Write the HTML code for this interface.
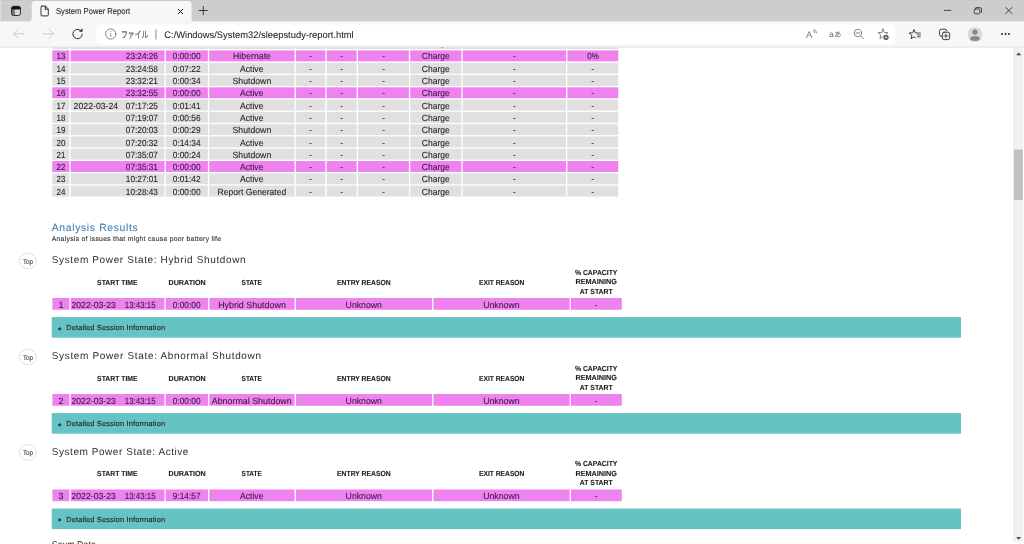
<!DOCTYPE html>
<html lang="ja"><head><meta charset="utf-8"><title>System Power Report</title>
<style>
html,body{margin:0;padding:0;background:#fff;overflow:hidden}
body{width:1024px;height:544px;overflow:hidden;position:relative}
#s{position:absolute;left:0;top:0;width:1920px;height:1020px;transform:scale(.5333333);transform-origin:0 0;
font-family:"Liberation Sans","Noto Sans CJK JP",sans-serif;color:#262626;overflow:hidden;background:#fff;text-rendering:geometricPrecision}
#page,#chrome{position:absolute;left:0;top:0;width:1920px;height:0}
.t{position:absolute;white-space:pre;margin:0;transform-origin:0 50%;-webkit-text-stroke:.2px}
.ic{position:absolute;overflow:visible}
</style></head>
<body><div id="s">
<div id="page">
<svg class="ic" viewBox="0 0 1024 544" style="left:0;top:0;width:1920px;height:1020px">
<rect x="52.25" y="38.13" width="17.08" height="10.96" fill="#e0e0e0"/>
<rect x="70.67" y="38.13" width="93.87" height="10.96" fill="#e0e0e0"/>
<rect x="165.86" y="38.13" width="42.02" height="10.96" fill="#e0e0e0"/>
<rect x="209.22" y="38.13" width="85.32" height="10.96" fill="#e0e0e0"/>
<rect x="295.87" y="38.13" width="29.47" height="10.96" fill="#e0e0e0"/>
<rect x="326.67" y="38.13" width="29.97" height="10.96" fill="#e0e0e0"/>
<rect x="357.97" y="38.13" width="50.92" height="10.96" fill="#e0e0e0"/>
<rect x="410.22" y="38.13" width="51.17" height="10.96" fill="#e0e0e0"/>
<rect x="462.72" y="38.13" width="103.32" height="10.96" fill="#e0e0e0"/>
<rect x="567.37" y="38.13" width="50.88" height="10.96" fill="#e0e0e0"/>
<rect x="52.25" y="50.42" width="17.08" height="10.96" fill="#ee82ee"/>
<rect x="70.67" y="50.42" width="93.87" height="10.96" fill="#ee82ee"/>
<rect x="165.86" y="50.42" width="42.02" height="10.96" fill="#ee82ee"/>
<rect x="209.22" y="50.42" width="85.32" height="10.96" fill="#ee82ee"/>
<rect x="295.87" y="50.42" width="29.47" height="10.96" fill="#ee82ee"/>
<rect x="326.67" y="50.42" width="29.97" height="10.96" fill="#ee82ee"/>
<rect x="357.97" y="50.42" width="50.92" height="10.96" fill="#ee82ee"/>
<rect x="410.22" y="50.42" width="51.17" height="10.96" fill="#ee82ee"/>
<rect x="462.72" y="50.42" width="103.32" height="10.96" fill="#ee82ee"/>
<rect x="567.37" y="50.42" width="50.88" height="10.96" fill="#ee82ee"/>
<rect x="52.25" y="62.71" width="17.08" height="10.96" fill="#e0e0e0"/>
<rect x="70.67" y="62.71" width="93.87" height="10.96" fill="#e0e0e0"/>
<rect x="165.86" y="62.71" width="42.02" height="10.96" fill="#e0e0e0"/>
<rect x="209.22" y="62.71" width="85.32" height="10.96" fill="#e0e0e0"/>
<rect x="295.87" y="62.71" width="29.47" height="10.96" fill="#e0e0e0"/>
<rect x="326.67" y="62.71" width="29.97" height="10.96" fill="#e0e0e0"/>
<rect x="357.97" y="62.71" width="50.92" height="10.96" fill="#e0e0e0"/>
<rect x="410.22" y="62.71" width="51.17" height="10.96" fill="#e0e0e0"/>
<rect x="462.72" y="62.71" width="103.32" height="10.96" fill="#e0e0e0"/>
<rect x="567.37" y="62.71" width="50.88" height="10.96" fill="#e0e0e0"/>
<rect x="52.25" y="75" width="17.08" height="10.96" fill="#e0e0e0"/>
<rect x="70.67" y="75" width="93.87" height="10.96" fill="#e0e0e0"/>
<rect x="165.86" y="75" width="42.02" height="10.96" fill="#e0e0e0"/>
<rect x="209.22" y="75" width="85.32" height="10.96" fill="#e0e0e0"/>
<rect x="295.87" y="75" width="29.47" height="10.96" fill="#e0e0e0"/>
<rect x="326.67" y="75" width="29.97" height="10.96" fill="#e0e0e0"/>
<rect x="357.97" y="75" width="50.92" height="10.96" fill="#e0e0e0"/>
<rect x="410.22" y="75" width="51.17" height="10.96" fill="#e0e0e0"/>
<rect x="462.72" y="75" width="103.32" height="10.96" fill="#e0e0e0"/>
<rect x="567.37" y="75" width="50.88" height="10.96" fill="#e0e0e0"/>
<rect x="52.25" y="87.29" width="17.08" height="10.96" fill="#ee82ee"/>
<rect x="70.67" y="87.29" width="93.87" height="10.96" fill="#ee82ee"/>
<rect x="165.86" y="87.29" width="42.02" height="10.96" fill="#ee82ee"/>
<rect x="209.22" y="87.29" width="85.32" height="10.96" fill="#ee82ee"/>
<rect x="295.87" y="87.29" width="29.47" height="10.96" fill="#ee82ee"/>
<rect x="326.67" y="87.29" width="29.97" height="10.96" fill="#ee82ee"/>
<rect x="357.97" y="87.29" width="50.92" height="10.96" fill="#ee82ee"/>
<rect x="410.22" y="87.29" width="51.17" height="10.96" fill="#ee82ee"/>
<rect x="462.72" y="87.29" width="103.32" height="10.96" fill="#ee82ee"/>
<rect x="567.37" y="87.29" width="50.88" height="10.96" fill="#ee82ee"/>
<rect x="52.25" y="99.58" width="17.08" height="10.96" fill="#e0e0e0"/>
<rect x="70.67" y="99.58" width="93.87" height="10.96" fill="#e0e0e0"/>
<rect x="165.86" y="99.58" width="42.02" height="10.96" fill="#e0e0e0"/>
<rect x="209.22" y="99.58" width="85.32" height="10.96" fill="#e0e0e0"/>
<rect x="295.87" y="99.58" width="29.47" height="10.96" fill="#e0e0e0"/>
<rect x="326.67" y="99.58" width="29.97" height="10.96" fill="#e0e0e0"/>
<rect x="357.97" y="99.58" width="50.92" height="10.96" fill="#e0e0e0"/>
<rect x="410.22" y="99.58" width="51.17" height="10.96" fill="#e0e0e0"/>
<rect x="462.72" y="99.58" width="103.32" height="10.96" fill="#e0e0e0"/>
<rect x="567.37" y="99.58" width="50.88" height="10.96" fill="#e0e0e0"/>
<rect x="52.25" y="111.87" width="17.08" height="10.96" fill="#e0e0e0"/>
<rect x="70.67" y="111.87" width="93.87" height="10.96" fill="#e0e0e0"/>
<rect x="165.86" y="111.87" width="42.02" height="10.96" fill="#e0e0e0"/>
<rect x="209.22" y="111.87" width="85.32" height="10.96" fill="#e0e0e0"/>
<rect x="295.87" y="111.87" width="29.47" height="10.96" fill="#e0e0e0"/>
<rect x="326.67" y="111.87" width="29.97" height="10.96" fill="#e0e0e0"/>
<rect x="357.97" y="111.87" width="50.92" height="10.96" fill="#e0e0e0"/>
<rect x="410.22" y="111.87" width="51.17" height="10.96" fill="#e0e0e0"/>
<rect x="462.72" y="111.87" width="103.32" height="10.96" fill="#e0e0e0"/>
<rect x="567.37" y="111.87" width="50.88" height="10.96" fill="#e0e0e0"/>
<rect x="52.25" y="124.16" width="17.08" height="10.96" fill="#e0e0e0"/>
<rect x="70.67" y="124.16" width="93.87" height="10.96" fill="#e0e0e0"/>
<rect x="165.86" y="124.16" width="42.02" height="10.96" fill="#e0e0e0"/>
<rect x="209.22" y="124.16" width="85.32" height="10.96" fill="#e0e0e0"/>
<rect x="295.87" y="124.16" width="29.47" height="10.96" fill="#e0e0e0"/>
<rect x="326.67" y="124.16" width="29.97" height="10.96" fill="#e0e0e0"/>
<rect x="357.97" y="124.16" width="50.92" height="10.96" fill="#e0e0e0"/>
<rect x="410.22" y="124.16" width="51.17" height="10.96" fill="#e0e0e0"/>
<rect x="462.72" y="124.16" width="103.32" height="10.96" fill="#e0e0e0"/>
<rect x="567.37" y="124.16" width="50.88" height="10.96" fill="#e0e0e0"/>
<rect x="52.25" y="136.45" width="17.08" height="10.96" fill="#e0e0e0"/>
<rect x="70.67" y="136.45" width="93.87" height="10.96" fill="#e0e0e0"/>
<rect x="165.86" y="136.45" width="42.02" height="10.96" fill="#e0e0e0"/>
<rect x="209.22" y="136.45" width="85.32" height="10.96" fill="#e0e0e0"/>
<rect x="295.87" y="136.45" width="29.47" height="10.96" fill="#e0e0e0"/>
<rect x="326.67" y="136.45" width="29.97" height="10.96" fill="#e0e0e0"/>
<rect x="357.97" y="136.45" width="50.92" height="10.96" fill="#e0e0e0"/>
<rect x="410.22" y="136.45" width="51.17" height="10.96" fill="#e0e0e0"/>
<rect x="462.72" y="136.45" width="103.32" height="10.96" fill="#e0e0e0"/>
<rect x="567.37" y="136.45" width="50.88" height="10.96" fill="#e0e0e0"/>
<rect x="52.25" y="148.74" width="17.08" height="10.96" fill="#e0e0e0"/>
<rect x="70.67" y="148.74" width="93.87" height="10.96" fill="#e0e0e0"/>
<rect x="165.86" y="148.74" width="42.02" height="10.96" fill="#e0e0e0"/>
<rect x="209.22" y="148.74" width="85.32" height="10.96" fill="#e0e0e0"/>
<rect x="295.87" y="148.74" width="29.47" height="10.96" fill="#e0e0e0"/>
<rect x="326.67" y="148.74" width="29.97" height="10.96" fill="#e0e0e0"/>
<rect x="357.97" y="148.74" width="50.92" height="10.96" fill="#e0e0e0"/>
<rect x="410.22" y="148.74" width="51.17" height="10.96" fill="#e0e0e0"/>
<rect x="462.72" y="148.74" width="103.32" height="10.96" fill="#e0e0e0"/>
<rect x="567.37" y="148.74" width="50.88" height="10.96" fill="#e0e0e0"/>
<rect x="52.25" y="161.03" width="17.08" height="10.96" fill="#ee82ee"/>
<rect x="70.67" y="161.03" width="93.87" height="10.96" fill="#ee82ee"/>
<rect x="165.86" y="161.03" width="42.02" height="10.96" fill="#ee82ee"/>
<rect x="209.22" y="161.03" width="85.32" height="10.96" fill="#ee82ee"/>
<rect x="295.87" y="161.03" width="29.47" height="10.96" fill="#ee82ee"/>
<rect x="326.67" y="161.03" width="29.97" height="10.96" fill="#ee82ee"/>
<rect x="357.97" y="161.03" width="50.92" height="10.96" fill="#ee82ee"/>
<rect x="410.22" y="161.03" width="51.17" height="10.96" fill="#ee82ee"/>
<rect x="462.72" y="161.03" width="103.32" height="10.96" fill="#ee82ee"/>
<rect x="567.37" y="161.03" width="50.88" height="10.96" fill="#ee82ee"/>
<rect x="52.25" y="173.32" width="17.08" height="10.96" fill="#e0e0e0"/>
<rect x="70.67" y="173.32" width="93.87" height="10.96" fill="#e0e0e0"/>
<rect x="165.86" y="173.32" width="42.02" height="10.96" fill="#e0e0e0"/>
<rect x="209.22" y="173.32" width="85.32" height="10.96" fill="#e0e0e0"/>
<rect x="295.87" y="173.32" width="29.47" height="10.96" fill="#e0e0e0"/>
<rect x="326.67" y="173.32" width="29.97" height="10.96" fill="#e0e0e0"/>
<rect x="357.97" y="173.32" width="50.92" height="10.96" fill="#e0e0e0"/>
<rect x="410.22" y="173.32" width="51.17" height="10.96" fill="#e0e0e0"/>
<rect x="462.72" y="173.32" width="103.32" height="10.96" fill="#e0e0e0"/>
<rect x="567.37" y="173.32" width="50.88" height="10.96" fill="#e0e0e0"/>
<rect x="52.25" y="185.61" width="17.08" height="10.96" fill="#e0e0e0"/>
<rect x="70.67" y="185.61" width="93.87" height="10.96" fill="#e0e0e0"/>
<rect x="165.86" y="185.61" width="42.02" height="10.96" fill="#e0e0e0"/>
<rect x="209.22" y="185.61" width="85.32" height="10.96" fill="#e0e0e0"/>
<rect x="295.87" y="185.61" width="29.47" height="10.96" fill="#e0e0e0"/>
<rect x="326.67" y="185.61" width="29.97" height="10.96" fill="#e0e0e0"/>
<rect x="357.97" y="185.61" width="50.92" height="10.96" fill="#e0e0e0"/>
<rect x="410.22" y="185.61" width="51.17" height="10.96" fill="#e0e0e0"/>
<rect x="462.72" y="185.61" width="103.32" height="10.96" fill="#e0e0e0"/>
<rect x="567.37" y="185.61" width="50.88" height="10.96" fill="#e0e0e0"/>
<ellipse cx="27.95" cy="261" rx="8.45" ry="7.85" fill="#fff" stroke="#d4d4d4" stroke-width=".7"/>
<rect x="52.4" y="298" width="17.03" height="11.75" fill="#ee82ee"/>
<rect x="70.77" y="298" width="93.62" height="11.75" fill="#ee82ee"/>
<rect x="165.72" y="298" width="42.32" height="11.75" fill="#ee82ee"/>
<rect x="209.36" y="298" width="85.22" height="11.75" fill="#ee82ee"/>
<rect x="295.92" y="298" width="136.17" height="11.75" fill="#ee82ee"/>
<rect x="433.42" y="298" width="136.17" height="11.75" fill="#ee82ee"/>
<rect x="570.91" y="298" width="50.84" height="11.75" fill="#ee82ee"/>
<rect x="51.75" y="317.1" width="909.25" height="20.6" fill="#66c3c4"/>
<ellipse cx="27.95" cy="357" rx="8.45" ry="7.85" fill="#fff" stroke="#d4d4d4" stroke-width=".7"/>
<rect x="52.4" y="394" width="17.03" height="11.75" fill="#ee82ee"/>
<rect x="70.77" y="394" width="93.62" height="11.75" fill="#ee82ee"/>
<rect x="165.72" y="394" width="42.32" height="11.75" fill="#ee82ee"/>
<rect x="209.36" y="394" width="85.22" height="11.75" fill="#ee82ee"/>
<rect x="295.92" y="394" width="136.17" height="11.75" fill="#ee82ee"/>
<rect x="433.42" y="394" width="136.17" height="11.75" fill="#ee82ee"/>
<rect x="570.91" y="394" width="50.84" height="11.75" fill="#ee82ee"/>
<rect x="51.75" y="413.1" width="909.25" height="20.6" fill="#66c3c4"/>
<ellipse cx="27.95" cy="452.45" rx="8.45" ry="7.85" fill="#fff" stroke="#d4d4d4" stroke-width=".7"/>
<rect x="52.4" y="489.45" width="17.03" height="11.75" fill="#ee82ee"/>
<rect x="70.77" y="489.45" width="93.62" height="11.75" fill="#ee82ee"/>
<rect x="165.72" y="489.45" width="42.32" height="11.75" fill="#ee82ee"/>
<rect x="209.36" y="489.45" width="85.22" height="11.75" fill="#ee82ee"/>
<rect x="295.92" y="489.45" width="136.17" height="11.75" fill="#ee82ee"/>
<rect x="433.42" y="489.45" width="136.17" height="11.75" fill="#ee82ee"/>
<rect x="570.91" y="489.45" width="50.84" height="11.75" fill="#ee82ee"/>
<rect x="51.75" y="508.55" width="909.25" height="20.6" fill="#66c3c4"/>
</svg>
<div class="t" style="top:70.69px;height:22px;line-height:22px;font-size:16.88px;left:105.64px;transform:scaleX(0.8893);">12</div>
<div class="t" style="top:70.69px;height:22px;line-height:22px;font-size:16.88px;left:236.06px;transform:scaleX(0.9162);">23:24:26</div>
<div class="t" style="top:70.69px;height:22px;line-height:22px;font-size:16.88px;left:324.38px;transform:scaleX(0.9243);">0:00:00</div>
<div class="t" style="top:70.69px;height:22px;line-height:22px;font-size:16.88px;left:435.94px;transform:scaleX(0.9680);">Shutdown</div>
<div class="t" style="top:70.69px;height:22px;line-height:22px;font-size:16.88px;left:579.57px;">-</div>
<div class="t" style="top:70.69px;height:22px;line-height:22px;font-size:16.88px;left:637.78px;">-</div>
<div class="t" style="top:70.69px;height:22px;line-height:22px;font-size:16.88px;left:716.11px;">-</div>
<div class="t" style="top:70.69px;height:22px;line-height:22px;font-size:16.88px;left:961.64px;">-</div>
<div class="t" style="top:70.69px;height:22px;line-height:22px;font-size:16.88px;left:790.97px;transform:scaleX(0.9451);">Charge</div>
<div class="t" style="top:70.69px;height:22px;line-height:22px;font-size:16.88px;left:1108.7px;">-</div>
<div class="t" style="top:95.06px;height:22px;line-height:22px;font-size:16.88px;left:105.64px;transform:scaleX(0.8893);color:#3b1a44;">13</div>
<div class="t" style="top:95.06px;height:22px;line-height:22px;font-size:16.88px;left:236.06px;transform:scaleX(0.9162);color:#3b1a44;">23:24:26</div>
<div class="t" style="top:95.06px;height:22px;line-height:22px;font-size:16.88px;left:324.38px;transform:scaleX(0.9243);color:#3b1a44;">0:00:00</div>
<div class="t" style="top:95.06px;height:22px;line-height:22px;font-size:16.88px;left:436.73px;transform:scaleX(0.9712);color:#3b1a44;">Hibernate</div>
<div class="t" style="top:95.06px;height:22px;line-height:22px;font-size:16.88px;left:579.57px;color:#3b1a44;">-</div>
<div class="t" style="top:95.06px;height:22px;line-height:22px;font-size:16.88px;left:637.78px;color:#3b1a44;">-</div>
<div class="t" style="top:95.06px;height:22px;line-height:22px;font-size:16.88px;left:716.11px;color:#3b1a44;">-</div>
<div class="t" style="top:95.06px;height:22px;line-height:22px;font-size:16.88px;left:961.64px;color:#3b1a44;">-</div>
<div class="t" style="top:95.06px;height:22px;line-height:22px;font-size:16.88px;left:790.97px;transform:scaleX(0.9451);color:#3b1a44;">Charge</div>
<div class="t" style="top:95.06px;height:22px;line-height:22px;font-size:16.88px;left:1100.64px;transform:scaleX(0.8920);color:#3b1a44;">0%</div>
<div class="t" style="top:119.44px;height:22px;line-height:22px;font-size:16.88px;left:105.64px;transform:scaleX(0.8893);">14</div>
<div class="t" style="top:119.44px;height:22px;line-height:22px;font-size:16.88px;left:236.06px;transform:scaleX(0.9162);">23:24:58</div>
<div class="t" style="top:119.44px;height:22px;line-height:22px;font-size:16.88px;left:324.38px;transform:scaleX(0.9243);">0:07:22</div>
<div class="t" style="top:119.44px;height:22px;line-height:22px;font-size:16.88px;left:450.23px;transform:scaleX(0.9589);">Active</div>
<div class="t" style="top:119.44px;height:22px;line-height:22px;font-size:16.88px;left:579.57px;">-</div>
<div class="t" style="top:119.44px;height:22px;line-height:22px;font-size:16.88px;left:637.78px;">-</div>
<div class="t" style="top:119.44px;height:22px;line-height:22px;font-size:16.88px;left:716.11px;">-</div>
<div class="t" style="top:119.44px;height:22px;line-height:22px;font-size:16.88px;left:961.64px;">-</div>
<div class="t" style="top:119.44px;height:22px;line-height:22px;font-size:16.88px;left:790.97px;transform:scaleX(0.9451);">Charge</div>
<div class="t" style="top:119.44px;height:22px;line-height:22px;font-size:16.88px;left:1108.7px;">-</div>
<div class="t" style="top:141.94px;height:22px;line-height:22px;font-size:16.88px;left:105.64px;transform:scaleX(0.8893);">15</div>
<div class="t" style="top:141.94px;height:22px;line-height:22px;font-size:16.88px;left:236.06px;transform:scaleX(0.9162);">23:32:21</div>
<div class="t" style="top:141.94px;height:22px;line-height:22px;font-size:16.88px;left:324.38px;transform:scaleX(0.9243);">0:00:34</div>
<div class="t" style="top:141.94px;height:22px;line-height:22px;font-size:16.88px;left:435.94px;transform:scaleX(0.9680);">Shutdown</div>
<div class="t" style="top:141.94px;height:22px;line-height:22px;font-size:16.88px;left:579.57px;">-</div>
<div class="t" style="top:141.94px;height:22px;line-height:22px;font-size:16.88px;left:637.78px;">-</div>
<div class="t" style="top:141.94px;height:22px;line-height:22px;font-size:16.88px;left:716.11px;">-</div>
<div class="t" style="top:141.94px;height:22px;line-height:22px;font-size:16.88px;left:961.64px;">-</div>
<div class="t" style="top:141.94px;height:22px;line-height:22px;font-size:16.88px;left:790.97px;transform:scaleX(0.9451);">Charge</div>
<div class="t" style="top:141.94px;height:22px;line-height:22px;font-size:16.88px;left:1108.7px;">-</div>
<div class="t" style="top:164.44px;height:22px;line-height:22px;font-size:16.88px;left:105.64px;transform:scaleX(0.8893);color:#3b1a44;">16</div>
<div class="t" style="top:164.44px;height:22px;line-height:22px;font-size:16.88px;left:236.06px;transform:scaleX(0.9162);color:#3b1a44;">23:32:55</div>
<div class="t" style="top:164.44px;height:22px;line-height:22px;font-size:16.88px;left:324.38px;transform:scaleX(0.9243);color:#3b1a44;">0:00:00</div>
<div class="t" style="top:164.44px;height:22px;line-height:22px;font-size:16.88px;left:450.23px;transform:scaleX(0.9589);color:#3b1a44;">Active</div>
<div class="t" style="top:164.44px;height:22px;line-height:22px;font-size:16.88px;left:579.57px;color:#3b1a44;">-</div>
<div class="t" style="top:164.44px;height:22px;line-height:22px;font-size:16.88px;left:637.78px;color:#3b1a44;">-</div>
<div class="t" style="top:164.44px;height:22px;line-height:22px;font-size:16.88px;left:716.11px;color:#3b1a44;">-</div>
<div class="t" style="top:164.44px;height:22px;line-height:22px;font-size:16.88px;left:961.64px;color:#3b1a44;">-</div>
<div class="t" style="top:164.44px;height:22px;line-height:22px;font-size:16.88px;left:790.97px;transform:scaleX(0.9451);color:#3b1a44;">Charge</div>
<div class="t" style="top:164.44px;height:22px;line-height:22px;font-size:16.88px;left:1108.7px;color:#3b1a44;">-</div>
<div class="t" style="top:188.81px;height:22px;line-height:22px;font-size:16.88px;left:105.64px;transform:scaleX(0.8893);">17</div>
<div class="t" style="top:188.81px;height:22px;line-height:22px;font-size:16.88px;left:137.62px;transform:scaleX(0.9688);">2022-03-24</div>
<div class="t" style="top:188.81px;height:22px;line-height:22px;font-size:16.88px;left:236.06px;transform:scaleX(0.9162);">07:17:25</div>
<div class="t" style="top:188.81px;height:22px;line-height:22px;font-size:16.88px;left:324.38px;transform:scaleX(0.9243);">0:01:41</div>
<div class="t" style="top:188.81px;height:22px;line-height:22px;font-size:16.88px;left:450.23px;transform:scaleX(0.9589);">Active</div>
<div class="t" style="top:188.81px;height:22px;line-height:22px;font-size:16.88px;left:579.57px;">-</div>
<div class="t" style="top:188.81px;height:22px;line-height:22px;font-size:16.88px;left:637.78px;">-</div>
<div class="t" style="top:188.81px;height:22px;line-height:22px;font-size:16.88px;left:716.11px;">-</div>
<div class="t" style="top:188.81px;height:22px;line-height:22px;font-size:16.88px;left:961.64px;">-</div>
<div class="t" style="top:188.81px;height:22px;line-height:22px;font-size:16.88px;left:790.97px;transform:scaleX(0.9451);">Charge</div>
<div class="t" style="top:188.81px;height:22px;line-height:22px;font-size:16.88px;left:1108.7px;">-</div>
<div class="t" style="top:211.31px;height:22px;line-height:22px;font-size:16.88px;left:105.64px;transform:scaleX(0.8893);">18</div>
<div class="t" style="top:211.31px;height:22px;line-height:22px;font-size:16.88px;left:236.06px;transform:scaleX(0.9162);">07:19:07</div>
<div class="t" style="top:211.31px;height:22px;line-height:22px;font-size:16.88px;left:324.38px;transform:scaleX(0.9243);">0:00:56</div>
<div class="t" style="top:211.31px;height:22px;line-height:22px;font-size:16.88px;left:450.23px;transform:scaleX(0.9589);">Active</div>
<div class="t" style="top:211.31px;height:22px;line-height:22px;font-size:16.88px;left:579.57px;">-</div>
<div class="t" style="top:211.31px;height:22px;line-height:22px;font-size:16.88px;left:637.78px;">-</div>
<div class="t" style="top:211.31px;height:22px;line-height:22px;font-size:16.88px;left:716.11px;">-</div>
<div class="t" style="top:211.31px;height:22px;line-height:22px;font-size:16.88px;left:961.64px;">-</div>
<div class="t" style="top:211.31px;height:22px;line-height:22px;font-size:16.88px;left:790.97px;transform:scaleX(0.9451);">Charge</div>
<div class="t" style="top:211.31px;height:22px;line-height:22px;font-size:16.88px;left:1108.7px;">-</div>
<div class="t" style="top:233.81px;height:22px;line-height:22px;font-size:16.88px;left:105.64px;transform:scaleX(0.8893);">19</div>
<div class="t" style="top:233.81px;height:22px;line-height:22px;font-size:16.88px;left:236.06px;transform:scaleX(0.9162);">07:20:03</div>
<div class="t" style="top:233.81px;height:22px;line-height:22px;font-size:16.88px;left:324.38px;transform:scaleX(0.9243);">0:00:29</div>
<div class="t" style="top:233.81px;height:22px;line-height:22px;font-size:16.88px;left:435.94px;transform:scaleX(0.9680);">Shutdown</div>
<div class="t" style="top:233.81px;height:22px;line-height:22px;font-size:16.88px;left:579.57px;">-</div>
<div class="t" style="top:233.81px;height:22px;line-height:22px;font-size:16.88px;left:637.78px;">-</div>
<div class="t" style="top:233.81px;height:22px;line-height:22px;font-size:16.88px;left:716.11px;">-</div>
<div class="t" style="top:233.81px;height:22px;line-height:22px;font-size:16.88px;left:961.64px;">-</div>
<div class="t" style="top:233.81px;height:22px;line-height:22px;font-size:16.88px;left:790.97px;transform:scaleX(0.9451);">Charge</div>
<div class="t" style="top:233.81px;height:22px;line-height:22px;font-size:16.88px;left:1108.7px;">-</div>
<div class="t" style="top:258.19px;height:22px;line-height:22px;font-size:16.88px;left:105.64px;transform:scaleX(0.8893);">20</div>
<div class="t" style="top:258.19px;height:22px;line-height:22px;font-size:16.88px;left:236.06px;transform:scaleX(0.9162);">07:20:32</div>
<div class="t" style="top:258.19px;height:22px;line-height:22px;font-size:16.88px;left:324.38px;transform:scaleX(0.9243);">0:14:34</div>
<div class="t" style="top:258.19px;height:22px;line-height:22px;font-size:16.88px;left:450.23px;transform:scaleX(0.9589);">Active</div>
<div class="t" style="top:258.19px;height:22px;line-height:22px;font-size:16.88px;left:579.57px;">-</div>
<div class="t" style="top:258.19px;height:22px;line-height:22px;font-size:16.88px;left:637.78px;">-</div>
<div class="t" style="top:258.19px;height:22px;line-height:22px;font-size:16.88px;left:716.11px;">-</div>
<div class="t" style="top:258.19px;height:22px;line-height:22px;font-size:16.88px;left:961.64px;">-</div>
<div class="t" style="top:258.19px;height:22px;line-height:22px;font-size:16.88px;left:790.97px;transform:scaleX(0.9451);">Charge</div>
<div class="t" style="top:258.19px;height:22px;line-height:22px;font-size:16.88px;left:1108.7px;">-</div>
<div class="t" style="top:280.69px;height:22px;line-height:22px;font-size:16.88px;left:105.64px;transform:scaleX(0.8893);">21</div>
<div class="t" style="top:280.69px;height:22px;line-height:22px;font-size:16.88px;left:236.06px;transform:scaleX(0.9162);">07:35:07</div>
<div class="t" style="top:280.69px;height:22px;line-height:22px;font-size:16.88px;left:324.38px;transform:scaleX(0.9243);">0:00:24</div>
<div class="t" style="top:280.69px;height:22px;line-height:22px;font-size:16.88px;left:435.94px;transform:scaleX(0.9680);">Shutdown</div>
<div class="t" style="top:280.69px;height:22px;line-height:22px;font-size:16.88px;left:579.57px;">-</div>
<div class="t" style="top:280.69px;height:22px;line-height:22px;font-size:16.88px;left:637.78px;">-</div>
<div class="t" style="top:280.69px;height:22px;line-height:22px;font-size:16.88px;left:716.11px;">-</div>
<div class="t" style="top:280.69px;height:22px;line-height:22px;font-size:16.88px;left:961.64px;">-</div>
<div class="t" style="top:280.69px;height:22px;line-height:22px;font-size:16.88px;left:790.97px;transform:scaleX(0.9451);">Charge</div>
<div class="t" style="top:280.69px;height:22px;line-height:22px;font-size:16.88px;left:1108.7px;">-</div>
<div class="t" style="top:303.19px;height:22px;line-height:22px;font-size:16.88px;left:105.64px;transform:scaleX(0.8893);color:#3b1a44;">22</div>
<div class="t" style="top:303.19px;height:22px;line-height:22px;font-size:16.88px;left:236.06px;transform:scaleX(0.9162);color:#3b1a44;">07:35:31</div>
<div class="t" style="top:303.19px;height:22px;line-height:22px;font-size:16.88px;left:324.38px;transform:scaleX(0.9243);color:#3b1a44;">0:00:00</div>
<div class="t" style="top:303.19px;height:22px;line-height:22px;font-size:16.88px;left:450.23px;transform:scaleX(0.9589);color:#3b1a44;">Active</div>
<div class="t" style="top:303.19px;height:22px;line-height:22px;font-size:16.88px;left:579.57px;color:#3b1a44;">-</div>
<div class="t" style="top:303.19px;height:22px;line-height:22px;font-size:16.88px;left:637.78px;color:#3b1a44;">-</div>
<div class="t" style="top:303.19px;height:22px;line-height:22px;font-size:16.88px;left:716.11px;color:#3b1a44;">-</div>
<div class="t" style="top:303.19px;height:22px;line-height:22px;font-size:16.88px;left:961.64px;color:#3b1a44;">-</div>
<div class="t" style="top:303.19px;height:22px;line-height:22px;font-size:16.88px;left:790.97px;transform:scaleX(0.9451);color:#3b1a44;">Charge</div>
<div class="t" style="top:303.19px;height:22px;line-height:22px;font-size:16.88px;left:1108.7px;color:#3b1a44;">-</div>
<div class="t" style="top:325.69px;height:22px;line-height:22px;font-size:16.88px;left:105.64px;transform:scaleX(0.8893);">23</div>
<div class="t" style="top:325.69px;height:22px;line-height:22px;font-size:16.88px;left:236.06px;transform:scaleX(0.9162);">10:27:01</div>
<div class="t" style="top:325.69px;height:22px;line-height:22px;font-size:16.88px;left:324.38px;transform:scaleX(0.9243);">0:01:42</div>
<div class="t" style="top:325.69px;height:22px;line-height:22px;font-size:16.88px;left:450.23px;transform:scaleX(0.9589);">Active</div>
<div class="t" style="top:325.69px;height:22px;line-height:22px;font-size:16.88px;left:579.57px;">-</div>
<div class="t" style="top:325.69px;height:22px;line-height:22px;font-size:16.88px;left:637.78px;">-</div>
<div class="t" style="top:325.69px;height:22px;line-height:22px;font-size:16.88px;left:716.11px;">-</div>
<div class="t" style="top:325.69px;height:22px;line-height:22px;font-size:16.88px;left:961.64px;">-</div>
<div class="t" style="top:325.69px;height:22px;line-height:22px;font-size:16.88px;left:790.97px;transform:scaleX(0.9451);">Charge</div>
<div class="t" style="top:325.69px;height:22px;line-height:22px;font-size:16.88px;left:1108.7px;">-</div>
<div class="t" style="top:350.06px;height:22px;line-height:22px;font-size:16.88px;left:105.64px;transform:scaleX(0.8893);">24</div>
<div class="t" style="top:350.06px;height:22px;line-height:22px;font-size:16.88px;left:236.06px;transform:scaleX(0.9162);">10:28:43</div>
<div class="t" style="top:350.06px;height:22px;line-height:22px;font-size:16.88px;left:324.38px;transform:scaleX(0.9243);">0:00:00</div>
<div class="t" style="top:350.06px;height:22px;line-height:22px;font-size:16.88px;left:407.81px;transform:scaleX(0.9543);">Report Generated</div>
<div class="t" style="top:350.06px;height:22px;line-height:22px;font-size:16.88px;left:579.57px;">-</div>
<div class="t" style="top:350.06px;height:22px;line-height:22px;font-size:16.88px;left:637.78px;">-</div>
<div class="t" style="top:350.06px;height:22px;line-height:22px;font-size:16.88px;left:716.11px;">-</div>
<div class="t" style="top:350.06px;height:22px;line-height:22px;font-size:16.88px;left:961.64px;">-</div>
<div class="t" style="top:350.06px;height:22px;line-height:22px;font-size:16.88px;left:790.97px;transform:scaleX(0.9451);">Charge</div>
<div class="t" style="top:350.06px;height:22px;line-height:22px;font-size:16.88px;left:1108.7px;">-</div>
<div class="t" style="top:414.06px;height:26px;line-height:26px;font-size:19.5px;letter-spacing:1.21px;left:97.03px;color:#4682b4;">Analysis Results</div>
<div class="t" style="top:437.94px;height:17px;line-height:17px;font-size:12.75px;letter-spacing:0.53px;left:97.03px;color:#333;">Analysis of issues that might cause poor battery life</div>
<div class="t" style="top:482.44px;height:18px;line-height:18px;font-size:13.12px;left:43.12px;transform:scaleX(0.8951);color:#333;-webkit-text-stroke:0.15px;">Top</div>
<div class="t" style="top:475.06px;height:25px;line-height:25px;font-size:18.75px;letter-spacing:1.19px;left:97.03px;color:#303030;-webkit-text-stroke:0.05px;">System Power State: Hybrid Shutdown</div>
<div class="t" style="top:521.81px;height:18px;line-height:18px;font-size:13.69px;left:181.88px;transform:scaleX(0.9364);font-weight:bold;color:#1e1e1e;">START TIME</div>
<div class="t" style="top:521.81px;height:18px;line-height:18px;font-size:13.69px;left:315.56px;transform:scaleX(0.9794);font-weight:bold;color:#1e1e1e;">DURATION</div>
<div class="t" style="top:521.81px;height:18px;line-height:18px;font-size:13.69px;left:453.38px;transform:scaleX(0.8843);font-weight:bold;color:#1e1e1e;">STATE</div>
<div class="t" style="top:521.81px;height:18px;line-height:18px;font-size:13.69px;left:632.34px;transform:scaleX(0.9289);font-weight:bold;color:#1e1e1e;">ENTRY REASON</div>
<div class="t" style="top:521.81px;height:18px;line-height:18px;font-size:13.69px;left:897.66px;transform:scaleX(0.9194);font-weight:bold;color:#1e1e1e;">EXIT REASON</div>
<div class="t" style="top:503.06px;height:18px;line-height:18px;font-size:13.69px;left:1078.28px;transform:scaleX(0.9384);font-weight:bold;color:#1e1e1e;">% CAPACITY</div>
<div class="t" style="top:519.94px;height:18px;line-height:18px;font-size:13.69px;left:1079.22px;transform:scaleX(0.9935);font-weight:bold;color:#1e1e1e;">REMAINING</div>
<div class="t" style="top:538.69px;height:18px;line-height:18px;font-size:13.69px;left:1087.19px;transform:scaleX(0.9428);font-weight:bold;color:#1e1e1e;">AT START</div>
<div class="t" style="top:561.94px;height:22px;line-height:22px;font-size:16.88px;left:109.53px;color:#3b1a44;">1</div>
<div class="t" style="top:561.94px;height:22px;line-height:22px;font-size:16.88px;left:134.06px;transform:scaleX(0.9645);color:#3b1a44;">2022-03-23</div>
<div class="t" style="top:561.94px;height:22px;line-height:22px;font-size:16.88px;left:234.38px;transform:scaleX(0.8819);color:#3b1a44;">13:43:15</div>
<div class="t" style="top:561.94px;height:22px;line-height:22px;font-size:16.88px;left:324.38px;transform:scaleX(0.9243);color:#3b1a44;">0:00:00</div>
<div class="t" style="top:561.94px;height:22px;line-height:22px;font-size:16.88px;left:408.94px;transform:scaleX(0.9885);color:#3b1a44;">Hybrid Shutdown</div>
<div class="t" style="top:561.94px;height:22px;line-height:22px;font-size:16.88px;left:648.38px;transform:scaleX(0.9701);color:#3b1a44;">Unknown</div>
<div class="t" style="top:561.94px;height:22px;line-height:22px;font-size:16.88px;left:906.19px;transform:scaleX(0.9701);color:#3b1a44;">Unknown</div>
<div class="t" style="top:561.94px;height:22px;line-height:22px;font-size:16.88px;left:1115.31px;color:#3b1a44;">-</div>
<div class="t" style="top:609.06px;height:17px;line-height:17px;font-size:12.38px;left:108.38px;font-weight:bold;color:#111;">+</div>
<div class="t" style="top:605.19px;height:19px;line-height:19px;font-size:13.88px;letter-spacing:0.29px;left:124.22px;color:#1c1c1c;">Detailed Session Information</div>
<div class="t" style="top:662.44px;height:18px;line-height:18px;font-size:13.12px;left:43.12px;transform:scaleX(0.8951);color:#333;-webkit-text-stroke:0.15px;">Top</div>
<div class="t" style="top:655.06px;height:25px;line-height:25px;font-size:18.75px;letter-spacing:1.23px;left:97.03px;color:#303030;-webkit-text-stroke:0.05px;">System Power State: Abnormal Shutdown</div>
<div class="t" style="top:701.81px;height:18px;line-height:18px;font-size:13.69px;left:181.88px;transform:scaleX(0.9364);font-weight:bold;color:#1e1e1e;">START TIME</div>
<div class="t" style="top:701.81px;height:18px;line-height:18px;font-size:13.69px;left:315.56px;transform:scaleX(0.9794);font-weight:bold;color:#1e1e1e;">DURATION</div>
<div class="t" style="top:701.81px;height:18px;line-height:18px;font-size:13.69px;left:453.38px;transform:scaleX(0.8843);font-weight:bold;color:#1e1e1e;">STATE</div>
<div class="t" style="top:701.81px;height:18px;line-height:18px;font-size:13.69px;left:632.34px;transform:scaleX(0.9289);font-weight:bold;color:#1e1e1e;">ENTRY REASON</div>
<div class="t" style="top:701.81px;height:18px;line-height:18px;font-size:13.69px;left:897.66px;transform:scaleX(0.9194);font-weight:bold;color:#1e1e1e;">EXIT REASON</div>
<div class="t" style="top:683.06px;height:18px;line-height:18px;font-size:13.69px;left:1078.28px;transform:scaleX(0.9384);font-weight:bold;color:#1e1e1e;">% CAPACITY</div>
<div class="t" style="top:699.94px;height:18px;line-height:18px;font-size:13.69px;left:1079.22px;transform:scaleX(0.9935);font-weight:bold;color:#1e1e1e;">REMAINING</div>
<div class="t" style="top:718.69px;height:18px;line-height:18px;font-size:13.69px;left:1087.19px;transform:scaleX(0.9428);font-weight:bold;color:#1e1e1e;">AT START</div>
<div class="t" style="top:741.94px;height:22px;line-height:22px;font-size:16.88px;left:109.53px;color:#3b1a44;">2</div>
<div class="t" style="top:741.94px;height:22px;line-height:22px;font-size:16.88px;left:134.06px;transform:scaleX(0.9645);color:#3b1a44;">2022-03-23</div>
<div class="t" style="top:741.94px;height:22px;line-height:22px;font-size:16.88px;left:234.38px;transform:scaleX(0.8819);color:#3b1a44;">13:43:15</div>
<div class="t" style="top:741.94px;height:22px;line-height:22px;font-size:16.88px;left:324.38px;transform:scaleX(0.9243);color:#3b1a44;">0:00:00</div>
<div class="t" style="top:741.94px;height:22px;line-height:22px;font-size:16.88px;left:397.45px;transform:scaleX(0.9871);color:#3b1a44;">Abnormal Shutdown</div>
<div class="t" style="top:741.94px;height:22px;line-height:22px;font-size:16.88px;left:648.38px;transform:scaleX(0.9701);color:#3b1a44;">Unknown</div>
<div class="t" style="top:741.94px;height:22px;line-height:22px;font-size:16.88px;left:906.19px;transform:scaleX(0.9701);color:#3b1a44;">Unknown</div>
<div class="t" style="top:741.94px;height:22px;line-height:22px;font-size:16.88px;left:1115.31px;color:#3b1a44;">-</div>
<div class="t" style="top:789.06px;height:17px;line-height:17px;font-size:12.38px;left:108.38px;font-weight:bold;color:#111;">+</div>
<div class="t" style="top:785.19px;height:19px;line-height:19px;font-size:13.88px;letter-spacing:0.29px;left:124.22px;color:#1c1c1c;">Detailed Session Information</div>
<div class="t" style="top:840.56px;height:18px;line-height:18px;font-size:13.12px;left:43.12px;transform:scaleX(0.8951);color:#333;-webkit-text-stroke:0.15px;">Top</div>
<div class="t" style="top:835.06px;height:25px;line-height:25px;font-size:18.75px;letter-spacing:1.04px;left:97.03px;color:#303030;-webkit-text-stroke:0.05px;">System Power State: Active</div>
<div class="t" style="top:879.94px;height:18px;line-height:18px;font-size:13.69px;left:181.88px;transform:scaleX(0.9364);font-weight:bold;color:#1e1e1e;">START TIME</div>
<div class="t" style="top:879.94px;height:18px;line-height:18px;font-size:13.69px;left:315.56px;transform:scaleX(0.9794);font-weight:bold;color:#1e1e1e;">DURATION</div>
<div class="t" style="top:879.94px;height:18px;line-height:18px;font-size:13.69px;left:453.38px;transform:scaleX(0.8843);font-weight:bold;color:#1e1e1e;">STATE</div>
<div class="t" style="top:879.94px;height:18px;line-height:18px;font-size:13.69px;left:632.34px;transform:scaleX(0.9289);font-weight:bold;color:#1e1e1e;">ENTRY REASON</div>
<div class="t" style="top:879.94px;height:18px;line-height:18px;font-size:13.69px;left:897.66px;transform:scaleX(0.9194);font-weight:bold;color:#1e1e1e;">EXIT REASON</div>
<div class="t" style="top:861.19px;height:18px;line-height:18px;font-size:13.69px;left:1078.28px;transform:scaleX(0.9384);font-weight:bold;color:#1e1e1e;">% CAPACITY</div>
<div class="t" style="top:879.94px;height:18px;line-height:18px;font-size:13.69px;left:1079.22px;transform:scaleX(0.9935);font-weight:bold;color:#1e1e1e;">REMAINING</div>
<div class="t" style="top:896.81px;height:18px;line-height:18px;font-size:13.69px;left:1087.19px;transform:scaleX(0.9428);font-weight:bold;color:#1e1e1e;">AT START</div>
<div class="t" style="top:920.06px;height:22px;line-height:22px;font-size:16.88px;left:109.53px;color:#3b1a44;">3</div>
<div class="t" style="top:920.06px;height:22px;line-height:22px;font-size:16.88px;left:134.06px;transform:scaleX(0.9645);color:#3b1a44;">2022-03-23</div>
<div class="t" style="top:920.06px;height:22px;line-height:22px;font-size:16.88px;left:234.38px;transform:scaleX(0.8819);color:#3b1a44;">13:43:15</div>
<div class="t" style="top:920.06px;height:22px;line-height:22px;font-size:16.88px;left:324.38px;transform:scaleX(0.9243);color:#3b1a44;">9:14:57</div>
<div class="t" style="top:920.06px;height:22px;line-height:22px;font-size:16.88px;left:450.42px;transform:scaleX(0.9589);color:#3b1a44;">Active</div>
<div class="t" style="top:920.06px;height:22px;line-height:22px;font-size:16.88px;left:648.38px;transform:scaleX(0.9701);color:#3b1a44;">Unknown</div>
<div class="t" style="top:920.06px;height:22px;line-height:22px;font-size:16.88px;left:906.19px;transform:scaleX(0.9701);color:#3b1a44;">Unknown</div>
<div class="t" style="top:920.06px;height:22px;line-height:22px;font-size:16.88px;left:1115.31px;color:#3b1a44;">-</div>
<div class="t" style="top:967.19px;height:17px;line-height:17px;font-size:12.38px;left:108.38px;font-weight:bold;color:#111;">+</div>
<div class="t" style="top:965.19px;height:19px;line-height:19px;font-size:13.88px;letter-spacing:0.29px;left:124.22px;color:#1c1c1c;">Detailed Session Information</div>
<div class="t" style="top:1009.44px;height:25px;line-height:25px;font-size:18.75px;left:97.03px;transform:scaleX(0.8935);color:#303030;-webkit-text-stroke:0.05px;">Scum Data</div>
</div>
<svg class="ic" viewBox="0 0 1024 544" style="left:0;top:0;width:1920px;height:1020px">
<rect x="1013.05" y="47.25" width="10.15" height="495.35" fill="#f1f1f1"/>
<rect x="1013.95" y="149.5" width="8.9" height="50.5" fill="#c1c1c1"/>
<path d="M1016.1 55.3l2.55-2.7 2.55 2.7z" fill="#484848"/>
<path d="M1016.1 537l2.55 2.7 2.55-2.7z" fill="#484848"/>
<rect x="1013" y="542.7" width="11" height="1.3" fill="#fff"/>
</svg>
<div id="chrome">
<svg class="ic" viewBox="0 0 1024 48" style="left:0;top:0;width:1920px;height:90px">
<rect x="0" y="0" width="1024" height="21.6" fill="#cdcdcd"/>
<rect x="0" y="0" width="1024" height="1.1" fill="#c8c8c8"/>
<rect x="0" y="1.2" width="1024" height="0.7" fill="#d3d3d3"/>
<rect x="0" y="21.5" width="1024" height="25.75" fill="#f7f7f7"/>
<rect x="0" y="46.7" width="1024" height="0.75" fill="#dcdcdc"/>
<path d="M28.1 21.6 Q31.7 21.6 31.7 18 V4.6 Q31.7 1 35.3 1 H187.9 Q191.5 1 191.5 4.6 V18 Q191.5 21.6 195.1 21.6 Z" fill="#f7f7f7"/>
<rect x="0" y="1.2" width="1.2" height="19.6" fill="#dddddd"/>
<rect x="96.25" y="24.4" width="798.95" height="20" rx="4.5" fill="#fff"/>
<rect x="155.5" y="29.3" width="0.9" height="10.2" fill="#808080"/>
</svg>
<div class="t" style="top:10.69px;height:21px;line-height:21px;font-size:16.12px;left:105.47px;transform:scaleX(0.8883);color:#2a2a2a;">System Power Report</div>
<div class="t" style="left:227.44px;top:53.91px;height:22.5px;line-height:22.5px;font-size:17.81px;color:#555;transform:scaleX(.715);-webkit-text-stroke:.3px">ファイル</div>
<div class="t" style="top:54.19px;height:24px;line-height:24px;font-size:17.81px;left:308.25px;transform:scaleX(0.9865);color:#222;-webkit-text-stroke:0.1px;">C:/Windows/System32/sleepstudy-report.html</div>
<svg class="ic" viewBox="0 0 1024 48" style="left:0;top:0;width:1920px;height:90px" fill="none" stroke-linecap="round" stroke-linejoin="round">
<!-- tab actions -->
<rect x="14.9" y="8.6" width="5.3" height="6.6" fill="#dadada" stroke="none"/>
<rect x="11.9" y="8.6" width="3" height="6.6" fill="#7c7c7c" stroke="none"/>
<path d="M11.55 9V8.4a2 2 0 0 1 2-2h4.9a2 2 0 0 1 2 2V9z" fill="#111" stroke="#111" stroke-width=".5"/>
<rect x="11.55" y="6.4" width="8.9" height="9.1" rx="2" stroke="#1c1c1c" stroke-width=".9"/>
<!-- document favicon -->
<path d="M42 6.1h3.5l2.8 2.8v6a1 1 0 0 1-1 1H42a1 1 0 0 1-1-1V7.1a1 1 0 0 1 1-1z" stroke="#2c2c2c" stroke-width=".95"/>
<path d="M45.3 6.3v2.9h2.9" stroke="#2c2c2c" stroke-width="1.05"/>
<!-- tab close -->
<path d="M178.25 9.25l4.5 4.5M182.75 9.25l-4.5 4.5" stroke="#1a1a1a" stroke-width="1"/>
<!-- new tab -->
<path d="M199 10.5h8.4M203.3 6.4v8.3" stroke="#222" stroke-width=".85"/>
<!-- window controls -->
<path d="M944.2 10.4h6.6" stroke="#222" stroke-width=".8"/>
<rect x="974.2" y="8.9" width="5.6" height="4.9" rx="1.2" stroke="#222" stroke-width=".8"/>
<path d="M976 7.6h3.8a1.7 1.7 0 0 1 1.7 1.7v3" stroke="#222" stroke-width=".8"/>
<path d="M1005.6 7.4l6.4 6.3M1012 7.4l-6.4 6.3" stroke="#222" stroke-width=".8"/>
<!-- back / forward / refresh -->
<path d="M24 33.8H14M18.4 29.2l-4.6 4.6 4.6 4.6" stroke="#c6c6c6" stroke-width=".95"/>
<path d="M43 33.8h10M48.9 29.2l4.6 4.6-4.6 4.6" stroke="#c6c6c6" stroke-width=".95"/>
<path d="M82.3 34.1a4.7 4.7 0 1 1-1.6-3.6" stroke="#2a2a2a" stroke-width="1"/>
<path d="M82.3 28.9v2.7h-2.7z" fill="#2a2a2a" stroke="#2a2a2a" stroke-width=".4"/>
<!-- info -->
<circle cx="110.75" cy="34" r="5.1" stroke="#777" stroke-width=".9"/>
<path d="M110.75 33.5v3.1" stroke="#888" stroke-width=".9"/>
<circle cx="110.75" cy="31.5" r=".6" fill="#888"/>
<!-- read aloud -->
<text x="805.9" y="37.9" font-family="Liberation Sans, sans-serif" font-size="9.6" fill="#777" stroke="none">A</text>
<path d="M813.3 30.9a2.1 2.1 0 0 1 1.5 1.8M814.1 29.5a3.7 3.7 0 0 1 2.5 3.3" stroke="#6a6a6a" stroke-width=".75"/>
<!-- translate -->
<text x="829" y="37.4" font-family="Liberation Sans, sans-serif" font-size="8.4" fill="#666" stroke="none">a</text>
<text x="833.9" y="37.5" font-family="Noto Sans CJK JP, sans-serif" font-size="7.4" fill="#666" stroke="none">あ</text>
<!-- zoom out -->
<circle cx="857.8" cy="33" r="3.7" stroke="#6a6a6a" stroke-width=".85"/>
<path d="M860.5 35.8l3 3M856 33h3.6" stroke="#6a6a6a" stroke-width=".85"/>
<!-- add favourite -->
<path d="M882.90 29.10 L884.25 32.44 L887.85 32.69 L885.09 35.01 L885.96 38.51 L882.90 36.60 L879.84 38.51 L880.71 35.01 L877.95 32.69 L881.55 32.44Z" stroke="#6e6e6e" stroke-width=".85"/>
<circle cx="886" cy="37.3" r="3.3" fill="#fff" stroke="none"/>
<circle cx="886" cy="37.3" r="2.6" fill="#4a4a4a" stroke="none"/>
<path d="M884.7 37.3h2.6M886 36v2.6" stroke="#fff" stroke-width=".6"/>
<!-- favourites -->
<path d="M916.5 32.85 L915.32 32.78 L914.00 29.50 L912.68 32.78 L909.15 33.02 L911.86 35.30 L911.00 38.73 L914.00 36.85 L915.4 37.65" stroke="#2a2a2a" stroke-width=".9"/>
<path d="M917 33h3.4M917.4 34.9h3M917.4 36.8h3" stroke="#2a2a2a" stroke-width=".8"/>
<!-- collections -->
<path d="M941.5 36.5a2 2 0 0 1-2-2v-3.300a2 2 0 0 1 2-2h3.400a2 2 0 0 1 2 1.700" stroke="#2a2a2a" stroke-width=".9"/>
<rect x="942.3" y="32.200" width="7.400" height="7.400" rx="1.800" stroke="#2a2a2a" stroke-width=".9"/>
<path d="M943.900 35.900h4.200M946 33.800v4.200" stroke="#2a2a2a" stroke-width=".8"/>
<!-- profile -->
<circle cx="975" cy="34.400" r="7.500" fill="#dcdad8" stroke="none"/>
<circle cx="975" cy="32.100" r="2.700" fill="#8a8886" stroke="none"/>
<path d="M970.200 38.700a4.800 2.600 0 0 1 9.600 0a4.800 2.200 0 0 1 -9.600 0z" fill="#8a8886" stroke="none"/>
<!-- menu dots -->
<circle cx="1002" cy="34" r=".95" fill="#1a1a1a"/><circle cx="1005.5" cy="34" r=".95" fill="#1a1a1a"/><circle cx="1009" cy="34" r=".95" fill="#1a1a1a"/>
</svg>
</div>
</div></body></html>
